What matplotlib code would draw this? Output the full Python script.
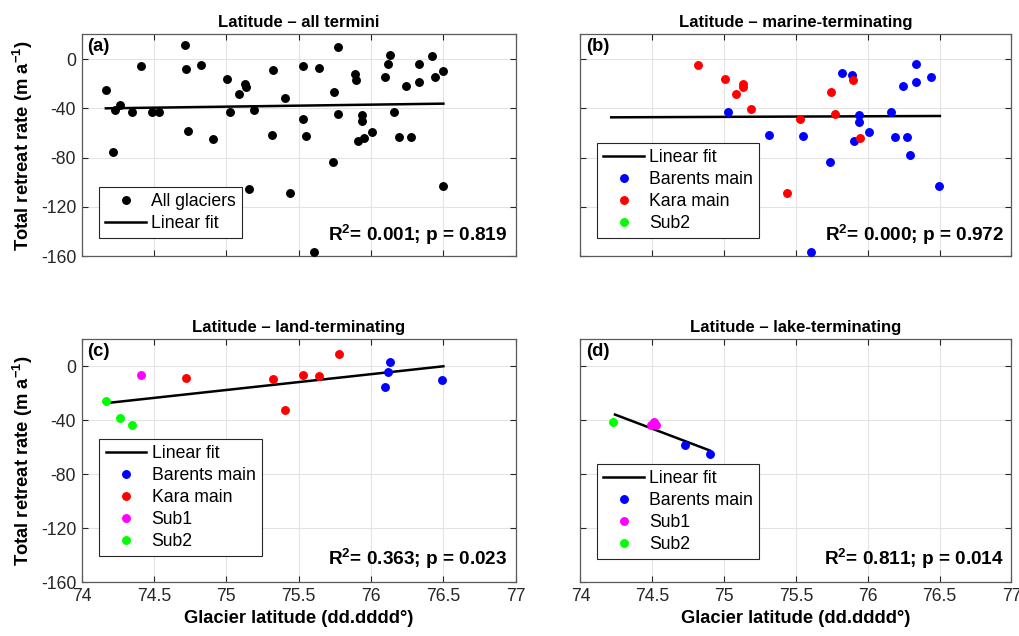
import matplotlib
matplotlib.use('Agg')
import matplotlib.pyplot as plt

plt.rcParams['font.family'] = ['Liberation Sans', 'DejaVu Sans']
plt.rcParams['mathtext.fontset'] = 'custom'
plt.rcParams['mathtext.rm'] = 'Liberation Sans'
plt.rcParams['mathtext.it'] = 'Liberation Sans:italic'
plt.rcParams['mathtext.bf'] = 'Liberation Sans:bold'
plt.rcParams['mathtext.default'] = 'bf'

# ---------------- data ----------------
# (a) all termini
all_lat = [74.167, 74.266, 74.231, 74.217, 74.348, 74.408, 74.484, 74.532, 74.714, 74.723,
           74.732, 74.822, 74.905, 75.006, 75.026, 75.089, 75.130, 75.137, 75.155, 75.190,
           75.316, 75.325, 75.408, 75.443, 75.532, 75.532, 75.548, 75.608, 75.640, 75.740,
           75.744, 75.772, 75.772, 75.886, 75.898, 75.907, 75.939, 75.939, 75.951, 76.008,
           76.098, 76.116, 76.134, 76.160, 76.190, 76.243, 76.275, 76.334, 76.334, 76.420,
           76.440, 76.495, 76.500]
all_rate = [-25.1, -37.6, -41.6, -75.4, -43.0, -5.7, -43.2, -43.0, 11.6, -8.4,
            -58.4, -4.6, -64.9, -16.2, -43.2, -28.4, -20.3, -22.4, -105.1, -41.1,
            -61.6, -9.2, -31.6, -108.4, -5.7, -48.4, -62.2, -156.2, -7.0, -83.2,
            -26.5, 9.7, -44.3, -12.2, -17.0, -66.2, -45.1, -50.5, -64.1, -59.2,
            -14.9, -4.1, 3.5, -43.2, -63.2, -22.2, -63.2, -18.6, -3.8, 2.4,
            -14.6, -9.5, -103.2]
fit_a_lat = [74.167, 76.500]
fit_a_rate = [-40.0, -36.2]

# (b) marine-terminating
b_barents_lat = [75.024, 75.314, 75.547, 75.607, 75.739, 75.824, 75.889, 75.907, 75.939, 75.939,
                 76.006, 76.161, 76.189, 76.242, 76.276, 76.292, 76.336, 76.336, 76.442, 76.498]
b_barents_rate = [-43.2, -61.6, -62.2, -156.2, -83.2, -11.1, -12.7, -66.2, -45.4, -50.8,
                  -59.5, -43.2, -63.0, -22.2, -63.0, -78.1, -3.8, -18.9, -14.6, -103.2]
b_kara_lat = [74.818, 75.003, 75.084, 75.130, 75.134, 75.187, 75.439, 75.527, 75.743, 75.771,
              75.898, 75.949]
b_kara_rate = [-4.6, -16.5, -28.4, -20.5, -22.7, -40.8, -108.4, -48.4, -26.8, -44.3,
               -17.0, -64.1]
b_sub2_lat = [74.217]
b_sub2_rate = [-75.4]
fit_b_lat = [74.214, 76.502]
fit_b_rate = [-47.3, -46.2]

# (c) land-terminating
c_barents_lat = [76.098, 76.116, 76.134, 76.493]
c_barents_rate = [-15.3, -4.2, 3.5, -10.1]
c_kara_lat = [74.723, 75.325, 75.408, 75.532, 75.640, 75.776]
c_kara_rate = [-8.6, -9.4, -32.1, -6.2, -7.2, 9.4]
c_sub1_lat = [74.408]
c_sub1_rate = [-6.2]
c_sub2_lat = [74.167, 74.263, 74.348]
c_sub2_rate = [-25.9, -38.5, -43.2]
fit_c_lat = [74.180, 76.500]
fit_c_rate = [-27.2, 0.0]

# (d) lake-terminating
d_barents_lat = [74.731, 74.901]
d_barents_rate = [-58.5, -65.2]
d_sub1_lat = [74.488, 74.509, 74.528]
d_sub1_rate = [-43.7, -41.7, -43.7]
d_sub2_lat = [74.223]
d_sub2_rate = [-41.7]
fit_d_lat = [74.240, 74.901]
fit_d_rate = [-35.8, -62.5]

titles = ['Latitude \u2013 all termini', 'Latitude \u2013 marine-terminating',
          'Latitude \u2013 land-terminating', 'Latitude \u2013 lake-terminating']
panel_labels = ['(a)', '(b)', '(c)', '(d)']
stats = [('0.001', '0.819'), ('0.000', '0.972'), ('0.363', '0.023'), ('0.811', '0.014')]
x_ticks = [74, 74.5, 75, 75.5, 76, 76.5, 77]
x_ticklabels = ['74', '74.5', '75', '75.5', '76', '76.5', '77']
y_ticks = [-160, -120, -80, -40, 0]
y_ticklabels = ['-160', '-120', '-80', '-40', '0']

C_BAR = '#0000ff'
C_KARA = '#ff0000'
C_SUB1 = '#ff00ff'
C_SUB2 = '#00ff00'

FS = 12.7
fig = plt.figure(figsize=(10.2, 6.36), dpi=100)
positions = [
    [0.0801, 0.597, 0.4255, 0.349],
    [0.5691, 0.597, 0.4225, 0.349],
    [0.0801, 0.0849, 0.4255, 0.3816],
    [0.5691, 0.0849, 0.4225, 0.3816],
]
axes = [fig.add_axes(p) for p in positions]

MS = 5.4
LW = 1.8

def style(ax, i):
    ax.set_xlim(74, 77)
    ax.set_ylim(-160, 20)
    ax.set_xticks(x_ticks)
    ax.set_yticks(y_ticks)
    if i >= 2:
        ax.set_xticklabels(x_ticklabels)
        ax.set_xlabel('Glacier latitude (dd.dddd\u00b0)', fontsize=FS + 0.5, fontweight='bold', labelpad=4)
    else:
        ax.set_xticklabels([])
    if i % 2 == 0:
        ax.set_yticklabels(y_ticklabels)
        ax.set_ylabel(r'Total retreat rate (m a$^{-1}$)', fontsize=FS + 0.5,
                      fontweight='bold', labelpad=4)
    else:
        ax.set_yticklabels([])
    ax.tick_params(direction='in', length=4, width=0.8, top=True, right=True,
                   labelsize=FS, colors='#262626', pad=4)
    ax.grid(True, color='#e3e3e3', linewidth=0.8)
    ax.set_axisbelow(True)
    for s in ax.spines.values():
        s.set_color('#5a5a5a')
        s.set_linewidth(0.9)
    ax.set_title(titles[i], fontsize=12.0, fontweight='bold', pad=5)
    ax.text(0.012, 0.985, panel_labels[i], transform=ax.transAxes, ha='left', va='top',
            fontsize=FS + 0.5, fontweight='bold')
    r2, p = stats[i]
    ax.text(0.982, 0.07, r'R$^{2}$= %s; p = %s' % (r2, p), transform=ax.transAxes,
            ha='right', va='baseline', fontsize=FS + 1, fontweight='bold')

leg_kw = dict(fontsize=FS, frameon=True, fancybox=False, framealpha=1, edgecolor='#262626',
              handlelength=2.3, handletextpad=0.3, labelspacing=0.28, borderpad=0.35,
              borderaxespad=0)

# (a)
ax = axes[0]
style(ax, 0)
ax.plot(all_lat, all_rate, 'o', color='black', ms=MS, label='All glaciers', zorder=3)
ax.plot(fit_a_lat, fit_a_rate, '-', color='black', lw=LW, label='Linear fit', zorder=2)
lg = ax.legend(loc='lower left', bbox_to_anchor=(0.040, 0.081), **leg_kw)
lg.get_frame().set_linewidth(0.8)

# (b)
ax = axes[1]
style(ax, 1)
ax.plot(fit_b_lat, fit_b_rate, '-', color='black', lw=LW, label='Linear fit', zorder=2)
ax.plot(b_barents_lat, b_barents_rate, 'o', color=C_BAR, ms=MS, label='Barents main', zorder=3)
ax.plot(b_kara_lat, b_kara_rate, 'o', color=C_KARA, ms=MS, label='Kara main', zorder=3)
ax.plot(b_sub2_lat, b_sub2_rate, 'o', color=C_SUB2, ms=MS, label='Sub2', zorder=3)
lg = ax.legend(loc='lower left', bbox_to_anchor=(0.039, 0.081), **leg_kw)
lg.get_frame().set_linewidth(0.8)

# (c)
ax = axes[2]
style(ax, 2)
ax.plot(fit_c_lat, fit_c_rate, '-', color='black', lw=LW, label='Linear fit', zorder=2)
ax.plot(c_barents_lat, c_barents_rate, 'o', color=C_BAR, ms=MS, label='Barents main', zorder=3)
ax.plot(c_kara_lat, c_kara_rate, 'o', color=C_KARA, ms=MS, label='Kara main', zorder=3)
ax.plot(c_sub1_lat, c_sub1_rate, 'o', color=C_SUB1, ms=MS, label='Sub1', zorder=3)
ax.plot(c_sub2_lat, c_sub2_rate, 'o', color=C_SUB2, ms=MS, label='Sub2', zorder=3)
lg = ax.legend(loc='upper left', bbox_to_anchor=(0.041, 0.588), **leg_kw)
lg.get_frame().set_linewidth(0.8)

# (d)
ax = axes[3]
style(ax, 3)
ax.plot(fit_d_lat, fit_d_rate, '-', color='black', lw=LW, label='Linear fit', zorder=2)
ax.plot(d_barents_lat, d_barents_rate, 'o', color=C_BAR, ms=MS, label='Barents main', zorder=3)
ax.plot(d_sub1_lat, d_sub1_rate, 'o', color=C_SUB1, ms=MS, label='Sub1', zorder=3)
ax.plot(d_sub2_lat, d_sub2_rate, 'o', color=C_SUB2, ms=MS, label='Sub2', zorder=3)
lg = ax.legend(loc='upper left', bbox_to_anchor=(0.039, 0.486), **leg_kw)
lg.get_frame().set_linewidth(0.8)

fig.savefig('out.png', dpi=100, facecolor='white')
